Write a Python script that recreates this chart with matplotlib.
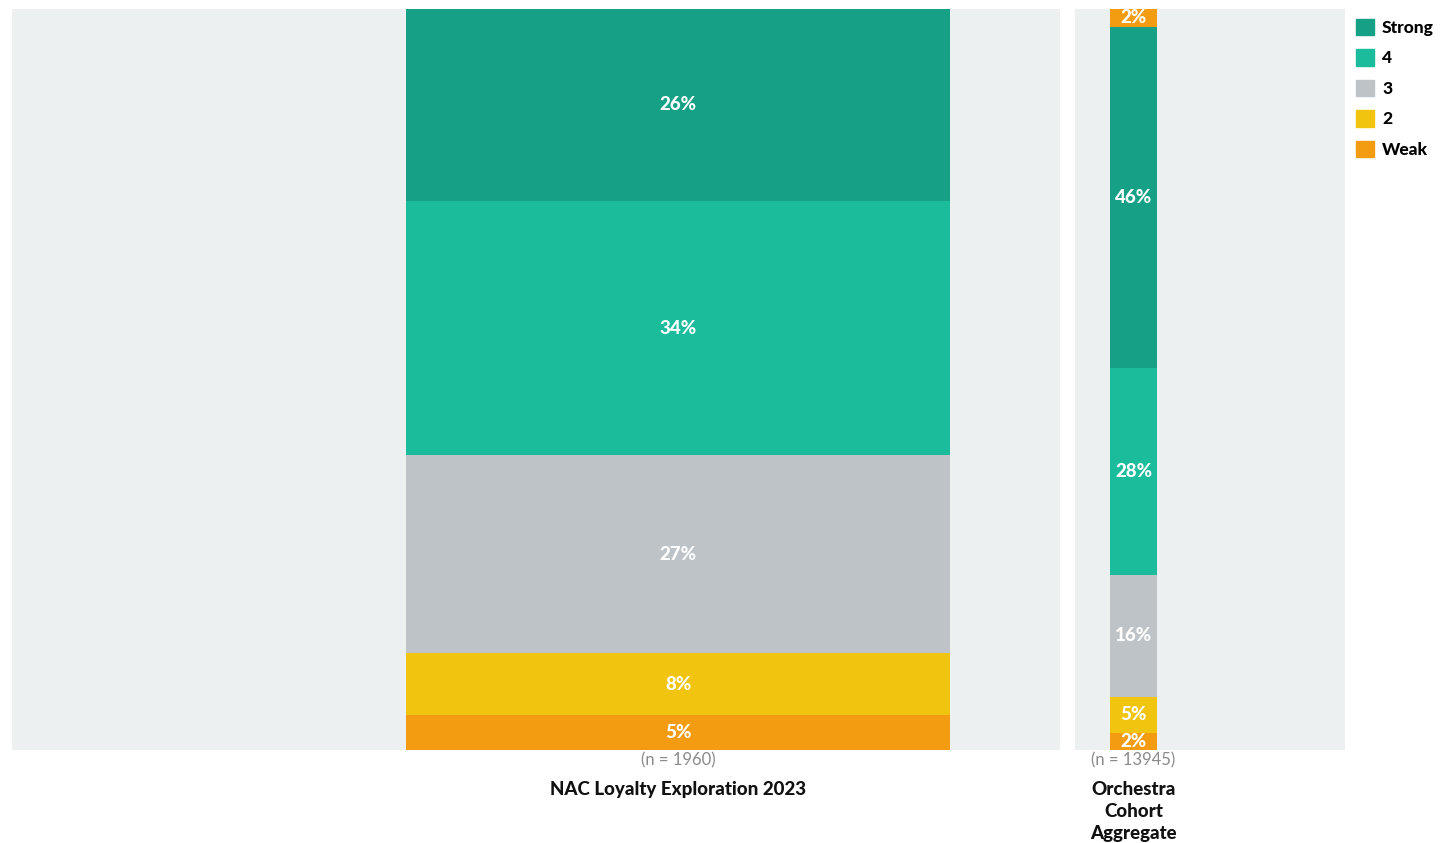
import matplotlib.pyplot as plt
import numpy as np

plt.rcParams['font.family'] = ['Lato', 'DejaVu Sans']

# categories bottom to top
categories = ["Weak", "2", "3", "4", "Strong"]
colors = {"Weak": "#F39C12", "2": "#F1C40F", "3": "#BDC3C7", "4": "#1ABC9C", "Strong": "#16A085"}

nac_values = [4.7, 8.4, 26.7, 34.3, 25.9]
orch_values = [2.3, 4.9, 16.4, 28.0, 46.0]
orch_extra_weak = 2.4   # the small orange piece drawn on top of the orchestra bar

nac_label = "NAC Loyalty Exploration 2023"
orch_label = "Orchestra\nCohort\nAggregate"
nac_n = "(n = 1960)"
orch_n = "(n = 13945)"

bg = "#ECF0F1"
heavy = 900

fig = plt.figure(figsize=(14.4, 8.43), dpi=100)
ax1 = fig.add_axes([12 / 1440, 93 / 843, 1048 / 1440, 741 / 843])
ax2 = fig.add_axes([1075 / 1440, 93 / 843, 270 / 1440, 741 / 843])


def seg(ax, v, bottom, c):
    ax.bar(0, v, bottom=bottom, width=1.0, color=colors[c], linewidth=0)
    ax.text(0, bottom + v / 2, f"{v:.0f}%", ha="center", va="center",
            color="white", fontsize=13.5, fontweight=heavy)


def stacked(ax, vals, cats):
    bottom = 0
    for v, c in zip(vals, cats):
        seg(ax, v, bottom, c)
        bottom += v
    return bottom


stacked(ax1, nac_values, categories)
top = stacked(ax2, orch_values, categories)
seg(ax2, orch_extra_weak, top, "Weak")

ax1.set_xlim(-1.224, 0.702)
ax2.set_xlim(-1.245, 4.5)
for ax in (ax1, ax2):
    ax.set_ylim(0, 100)
    ax.set_facecolor(bg)
    ax.set_xticks([])
    ax.set_yticks([])
    for s in ax.spines.values():
        s.set_visible(False)

# n labels and category names under each bar
ax1.text(0, -0.3, nac_n, ha="center", va="top", fontsize=12, color="#8a8a8a", clip_on=False)
ax1.text(0, -4.2, nac_label, ha="center", va="top", fontsize=13.5, fontweight=heavy,
         color="#111111", clip_on=False)
ax2.text(0, -0.3, orch_n, ha="center", va="top", fontsize=12, color="#8a8a8a", clip_on=False)
ax2.text(0, -4.2, orch_label, ha="center", va="top", fontsize=13.5, fontweight=heavy,
         color="#111111", linespacing=1.35, clip_on=False)

# legend, top to bottom
handles = [plt.Rectangle((0, 0), 1, 1, color=colors[c]) for c in categories[::-1]]
leg = fig.legend(handles, categories[::-1], loc="upper left",
                 bbox_to_anchor=(1349 / 1440, 1 - 12 / 843), frameon=False,
                 fontsize=12.5, handlelength=1.05, handleheight=1.05,
                 labelspacing=0.78, handletextpad=0.45, borderaxespad=0)
for t in leg.get_texts():
    t.set_fontweight(heavy)

fig.savefig("out.png", dpi=100)
